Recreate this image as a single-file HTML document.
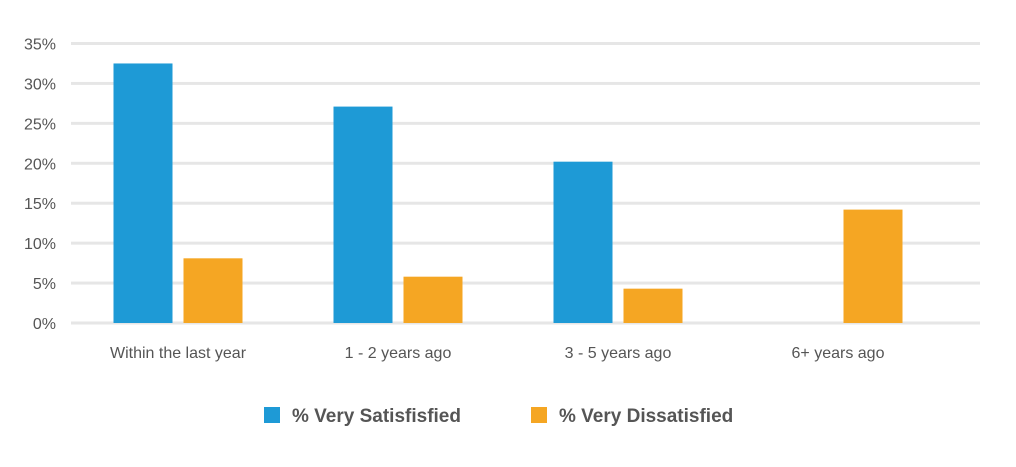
<!DOCTYPE html>
<html><head><meta charset="utf-8"><style>
body{margin:0;background:#fff;width:1016px;height:462px;overflow:hidden}
svg{font-family:"Liberation Sans",sans-serif}
</style></head><body>
<svg id="chart" width="1016" height="462">
<g id="grid"></g>
<g id="yticks"></g>
<g id="bars"></g>
<g id="xticks"></g>
<g>
<g>
<rect x="264" y="407" width="16" height="16" fill="#1e9ad6"/>
<text x="292" y="422" font-size="19" font-weight="bold" fill="#555">% Very Satisfisfied</text>
</g>
<g>
<rect x="531" y="407" width="16" height="16" fill="#f5a623"/>
<text x="559" y="422" font-size="19" font-weight="bold" fill="#555">% Very Dissatisfied</text>
</g>
</g>
</svg>
<script>
const categories=["Within the last year","1 - 2 years ago","3 - 5 years ago","6+ years ago"];
const satisfied=[32.5,27.1,20.2,0];
const dissatisfied=[8.1,5.8,4.3,14.2];
const yTicks=[0,5,10,15,20,25,30,35];
const ns="http://www.w3.org/2000/svg";
const y0=323,y1=43.5,yMax=35;
function y(v){return y0-(v/yMax)*(y0-y1);}
const start=68,step=220;
function xc(i){return start+step/2+i*step;}
const bw=59,gap=11;
function mk(tag,attrs,parent){const e=document.createElementNS(ns,tag);for(const k in attrs)e.setAttribute(k,attrs[k]);parent.appendChild(e);return e;}
const grid=document.getElementById('grid'),yt=document.getElementById('yticks'),bars=document.getElementById('bars'),xt=document.getElementById('xticks');
yTicks.forEach(t=>{
 const l=mk('rect',{x:71,y:y(t)-1.5,width:909,height:3,fill:'#e6e6e6'},grid);
 
 
 const tx=mk('text',{x:56,y:y(t)+6,'text-anchor':'end','font-size':16,fill:'#555'},yt);
 tx.textContent=t+'%';
 
 
});
categories.forEach((c,i)=>{
 const cx=xc(i);
 const b1=mk('rect',{x:cx-gap/2-bw,y:y(satisfied[i]),width:bw,height:y0-y(satisfied[i]),fill:'#1e9ad6'},bars);
 
 
 const b2=mk('rect',{x:cx+gap/2,y:y(dissatisfied[i]),width:bw,height:y0-y(dissatisfied[i]),fill:'#f5a623'},bars);
 
 
 const t=mk('text',{x:cx,y:358,'text-anchor':'middle','font-size':16,fill:'#555'},xt);
 t.textContent=c;
 
 
});
</script>
</body></html>
